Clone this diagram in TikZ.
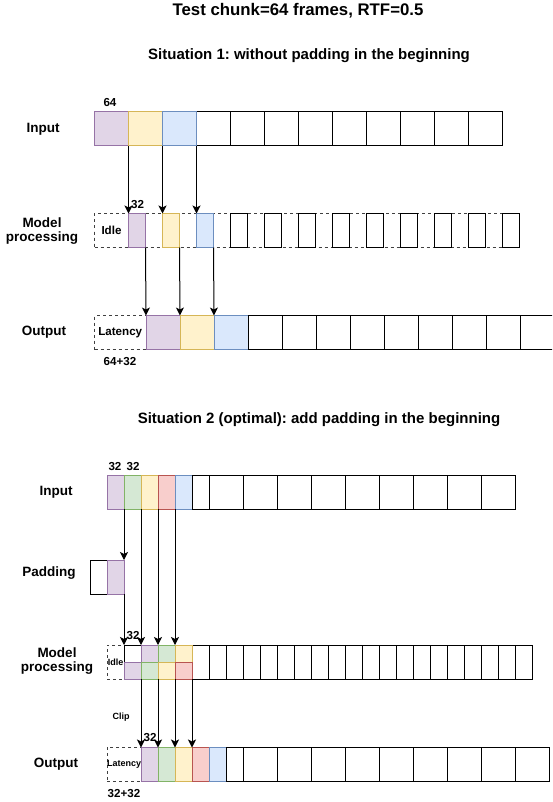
\documentclass[tikz,border=0pt]{standalone}
\usepackage{fontspec}
\setmainfont{Liberation Sans}
\usepackage{xcolor}
\usetikzlibrary{positioning}
\usetikzlibrary{arrows.meta}
\frenchspacing

% draw.io palette
\definecolor{purplefill}{HTML}{E1D5E7}
\definecolor{purpleline}{HTML}{9673A6}
\definecolor{yellowfill}{HTML}{FFF2CC}
\definecolor{yellowline}{HTML}{D6B656}
\definecolor{bluefill}{HTML}{DAE8FC}
\definecolor{blueline}{HTML}{6C8EBF}
\definecolor{greenfill}{HTML}{D5E8D4}
\definecolor{greenline}{HTML}{82B366}
\definecolor{redfill}{HTML}{F8CECC}
\definecolor{redline}{HTML}{B85450}

\newcommand{\pxfont}[1]{\fontsize{#1}{#1}\selectfont\bfseries}

\begin{document}
\begin{tikzpicture}[x=1pt,y=-1pt,
    cell/.style={draw=black, line width=1pt, fill=white, inner sep=0pt, outer sep=0pt,
        anchor=north west, minimum width=34pt, minimum height=34pt},
    narrow/.style={cell, minimum width=17pt},
    halfcell/.style={cell, minimum width=17pt, minimum height=17pt},
    dashbox/.style={cell, draw=black!75, dash pattern=on 3pt off 3pt},
    pcell/.style={fill=purplefill, draw=purpleline},
    ycell/.style={fill=yellowfill, draw=yellowline},
    bcell/.style={fill=bluefill, draw=blueline},
    gcell/.style={fill=greenfill, draw=greenline},
    rcell/.style={fill=redfill, draw=redline},
    rowlabel/.style={font=\pxfont{13.5}, align=center},
    small/.style={font=\pxfont{11.6}},
    tiny/.style={font=\pxfont{9}},
    arr/.style={-{Stealth[length=8pt,width=8pt,inset=2pt]}, line width=1pt}]

    \useasboundingbox (0,0) rectangle (552,802);
    \clip (0,0) rectangle (552,802);

    % Titles
    \node[font=\pxfont{16.8}] (title) at (298,11) {Test chunk=64 frames, RTF=0.5};
    \node[font=\pxfont{15}] (sitA) at (309,56) {Situation 1: without padding in the beginning};
    \node[font=\pxfont{15}] (sitB) at (319,420) {Situation 2 (optimal): add padding in the beginning};

    %%% Situation 1
    \node[rowlabel] (s1in-lbl) at (43,129) {Input};
    \node[rowlabel] (s1mp-lbl) at (42,231) {Model\\processing};
    \node[rowlabel] (s1out-lbl) at (44,332) {Output};

    % Input chunks
    \foreach \i in {0,...,8}
        \node[cell] (s1in-w\i) at ({196.5+34*\i},112) {};
    \node[cell, pcell] (s1in-p) at (94.5,112) {};
    \node[cell, ycell] (s1in-y) at (128.5,112) {};
    \node[cell, bcell] (s1in-b) at (162.5,112) {};
    \node[small] (s1in-n) at (110,103) {64};

    % Model processing, idle gaps dashed
    \draw[draw=black!75, line width=1pt, dash pattern=on 3pt off 3pt] (94.5,213.5) rectangle (519.5,247.5);
    \node[dashbox, small] (s1mp-idle) at (94.5,213.5) {Idle};
    \node[narrow, pcell] (s1mp-p) at (128.5,213.5) {};
    \node[narrow, ycell] (s1mp-y) at (162.5,213.5) {};
    \node[narrow, bcell] (s1mp-b) at (196.5,213.5) {};
    \foreach \i in {0,...,8}
        \node[narrow] (s1mp-w\i) at ({230.5+34*\i},213.5) {};
    \node[small] (s1mp-n) at (137.5,205) {32};

    % Output
    \node[dashbox, small, minimum width=51.5pt] (s1out-lat) at (94.5,315.5) {Latency};
    \node[cell, pcell] (s1out-p) at (146,315.5) {};
    \node[cell, ycell] (s1out-y) at (180,315.5) {};
    \node[cell, bcell] (s1out-b) at (214,315.5) {};
    \foreach \i in {0,...,8}
        \node[cell] (s1out-w\i) at ({248+34.1*\i},315.5) {};
    \node[small] (s1out-n) at (120,362) {64+32};

    \draw[arr] (s1in-p.south east) -- (s1mp-p.north west);
    \draw[arr] (s1in-y.south east) -- (s1mp-y.north west);
    \draw[arr] (s1in-b.south east) -- (s1mp-b.north west);
    \draw[arr] (s1mp-p.south east) -- (s1out-p.north west);
    \draw[arr] (s1mp-y.south east) -- (s1out-y.north west);
    \draw[arr] (s1mp-b.south east) -- (s1out-b.north west);

    %%% Situation 2
    \node[rowlabel] (s2in-lbl) at (56,492) {Input};
    \node[rowlabel] (s2pad-lbl) at (49,573) {Padding};
    \node[rowlabel] (s2mp-lbl) at (57,661) {Model\\processing};
    \node[rowlabel] (s2out-lbl) at (56,764) {Output};

    % Input, half chunks
    \node[narrow, pcell] (s2in-p) at (107,475) {};
    \node[narrow, gcell] (s2in-g) at (124,475) {};
    \node[narrow, ycell] (s2in-y) at (141,475) {};
    \node[narrow, rcell] (s2in-r) at (158,475) {};
    \node[narrow, bcell] (s2in-b) at (175,475) {};
    \node[narrow] (s2in-h) at (192,475) {};
    \foreach \i in {0,...,8}
        \node[cell] (s2in-w\i) at ({209+34*\i},475) {};
    \node[small] (s2in-n1) at (115,467) {32};
    \node[small] (s2in-n2) at (133,467) {32};

    % Padding
    \node[narrow] (s2pad-e) at (90,560) {};
    \node[narrow, pcell] (s2pad-p) at (107,560) {};

    % Model processing, two chunks stacked
    \foreach \i in {0,...,19}
        \node[narrow] (s2mp-w\i) at ({192+17*\i},645) {};
    \node[dashbox, tiny, minimum width=17pt] (s2mp-idle) at (107,645) {Idle};
    \node[halfcell] (s2mp-t0) at (124,645) {};
    \node[halfcell, pcell] (s2mp-tp) at (141,645) {};
    \node[halfcell, gcell] (s2mp-tg) at (158,645) {};
    \node[halfcell, ycell] (s2mp-ty) at (175,645) {};
    \node[halfcell, pcell] (s2mp-bp) at (124,662) {};
    \node[halfcell, gcell] (s2mp-bg) at (141,662) {};
    \node[halfcell, ycell] (s2mp-by) at (158,662) {};
    \node[halfcell, rcell] (s2mp-br) at (175,662) {};
    \node[small] (s2mp-n) at (133,636) {32};
    \node[tiny] (s2clip) at (121,717) {Clip};

    % Output
    \node[dashbox, tiny] (s2out-lat) at (107,747.5) {Latency};
    \node[narrow, pcell] (s2out-p) at (141,747.5) {};
    \node[narrow, gcell] (s2out-g) at (158,747.5) {};
    \node[narrow, ycell] (s2out-y) at (175,747.5) {};
    \node[narrow, rcell] (s2out-r) at (192,747.5) {};
    \node[narrow, bcell] (s2out-b) at (209,747.5) {};
    \node[narrow] (s2out-h) at (226,747.5) {};
    \foreach \i in {0,...,8}
        \node[cell] (s2out-w\i) at ({243+34*\i},747.5) {};
    \node[small] (s2out-n) at (150,738) {32};
    \node[small] (s2out-sum) at (124,794) {32+32};

    \draw[arr] (s2in-p.south east) -- (s2pad-p.north east);
    \draw[arr] (s2pad-p.south east) -- (s2mp-t0.north west);
    \draw[arr] (s2in-g.south east) -- (s2mp-tp.north west);
    \draw[arr] (s2in-y.south east) -- (s2mp-tg.north west);
    \draw[arr] (s2in-r.south east) -- (s2mp-ty.north west);
    \draw[arr] (s2mp-bp.south east) -- (s2out-p.north west);
    \draw[arr] (s2mp-bg.south east) -- (s2out-g.north west);
    \draw[arr] (s2mp-by.south east) -- (s2out-y.north west);
    \draw[arr] (s2mp-br.south east) -- (s2out-r.north west);
\end{tikzpicture}
\end{document}
